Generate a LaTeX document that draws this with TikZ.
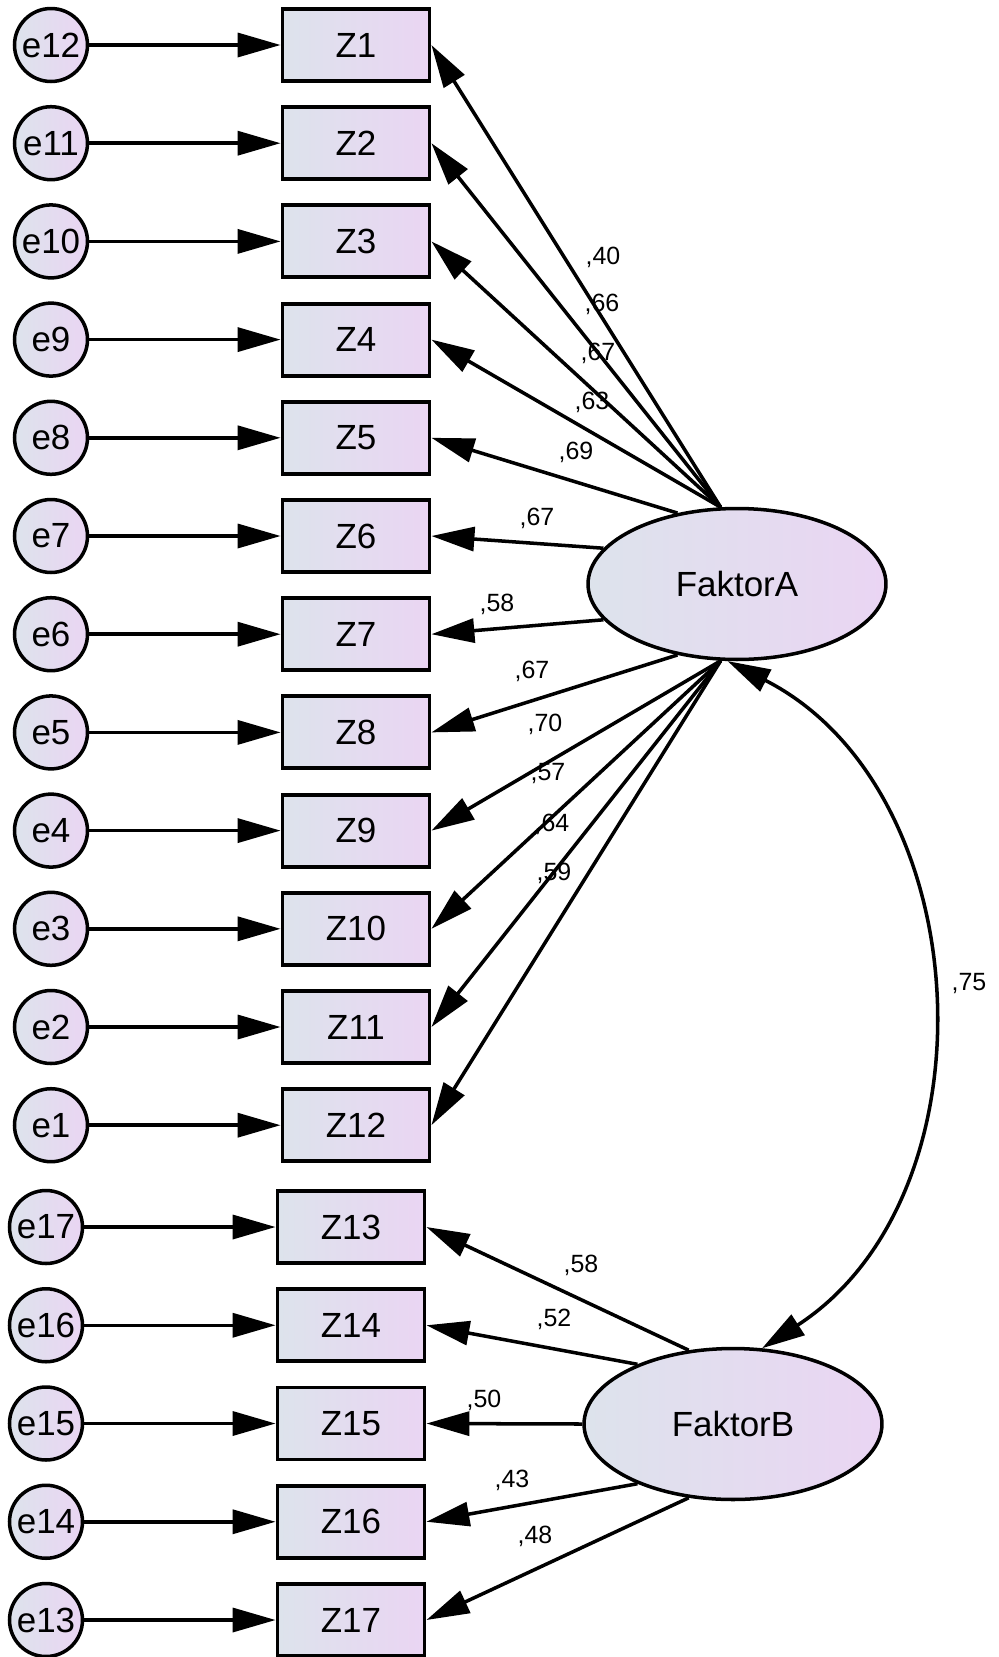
\documentclass[tikz,border=0pt]{standalone}
\usepackage{fontspec}
\setmainfont{Liberation Sans}
\usetikzlibrary{calc,arrows.meta,shapes.geometric}

\definecolor{shadeleft}{RGB}{221,227,236}
\definecolor{shaderight}{RGB}{234,213,243}

\tikzset{
  err/.style={circle, draw, line width=2pt, minimum size=1.46cm, inner sep=0pt,
    left color=shadeleft, right color=shaderight, font=\fontsize{19.9}{24}\selectfont},
  ind/.style={rectangle, draw, line width=2.2pt, minimum width=2.94cm, minimum height=1.44cm,
    left color=shadeleft, right color=shaderight, font=\fontsize{19.9}{24}\selectfont},
  lat/.style={ellipse, draw, line width=2pt, minimum width=5.96cm, minimum height=3.02cm,
    left color=shadeleft, right color=shaderight, font=\fontsize{19.9}{24}\selectfont},
  arr/.style={line width=2pt, -{Triangle[length=0.86cm,width=0.48cm]}},
  cov/.style={line width=2pt, {Triangle[length=0.86cm,width=0.48cm]}-{Triangle[length=0.86cm,width=0.48cm]}},
  lbl/.style={inner sep=0pt, font=\fontsize{14.2}{17}\selectfont},
}

\begin{document}
\begin{tikzpicture}[x=0.02cm,y=0.02cm]
    \useasboundingbox (0,0) rectangle (998,-1657);

    % first factor: error terms and indicators
    \node[err] (e12) at ($0*(0,-98.2)+(51,-45)$) {e12};
    \node[err] (e11) at ($1*(0,-98.2)+(51,-45)$) {e11};
    \node[err] (e10) at ($2*(0,-98.2)+(51,-45)$) {e10};
    \node[err] (e9) at ($3*(0,-98.2)+(51,-45)$) {e9};
    \node[err] (e8) at ($4*(0,-98.2)+(51,-45)$) {e8};
    \node[err] (e7) at ($5*(0,-98.2)+(51,-45)$) {e7};
    \node[err] (e6) at ($6*(0,-98.2)+(51,-45)$) {e6};
    \node[err] (e5) at ($7*(0,-98.2)+(51,-45)$) {e5};
    \node[err] (e4) at ($8*(0,-98.2)+(51,-45)$) {e4};
    \node[err] (e3) at ($9*(0,-98.2)+(51,-45)$) {e3};
    \node[err] (e2) at ($10*(0,-98.2)+(51,-45)$) {e2};
    \node[err] (e1) at ($11*(0,-98.2)+(51,-45)$) {e1};

    \node[ind] (Z1) at ($0*(0,-98.2)+(356,-45)$) {Z1};
    \node[ind] (Z2) at ($1*(0,-98.2)+(356,-45)$) {Z2};
    \node[ind] (Z3) at ($2*(0,-98.2)+(356,-45)$) {Z3};
    \node[ind] (Z4) at ($3*(0,-98.2)+(356,-45)$) {Z4};
    \node[ind] (Z5) at ($4*(0,-98.2)+(356,-45)$) {Z5};
    \node[ind] (Z6) at ($5*(0,-98.2)+(356,-45)$) {Z6};
    \node[ind] (Z7) at ($6*(0,-98.2)+(356,-45)$) {Z7};
    \node[ind] (Z8) at ($7*(0,-98.2)+(356,-45)$) {Z8};
    \node[ind] (Z9) at ($8*(0,-98.2)+(356,-45)$) {Z9};
    \node[ind] (Z10) at ($9*(0,-98.2)+(356,-45)$) {Z10};
    \node[ind] (Z11) at ($10*(0,-98.2)+(356,-45)$) {Z11};
    \node[ind] (Z12) at ($11*(0,-98.2)+(356,-45)$) {Z12};

    % second factor
    \node[err] (e17) at ($0*(0,-98.25)+(46,-1227)$) {e17};
    \node[err] (e16) at ($1*(0,-98.25)+(46,-1227)$) {e16};
    \node[err] (e15) at ($2*(0,-98.25)+(46,-1227)$) {e15};
    \node[err] (e14) at ($3*(0,-98.25)+(46,-1227)$) {e14};
    \node[err] (e13) at ($4*(0,-98.25)+(46,-1227)$) {e13};

    \node[ind] (Z13) at ($0*(0,-98.25)+(351,-1227)$) {Z13};
    \node[ind] (Z14) at ($1*(0,-98.25)+(351,-1227)$) {Z14};
    \node[ind] (Z15) at ($2*(0,-98.25)+(351,-1227)$) {Z15};
    \node[ind] (Z16) at ($3*(0,-98.25)+(351,-1227)$) {Z16};
    \node[ind] (Z17) at ($4*(0,-98.25)+(351,-1227)$) {Z17};

    \node[lat] (FaktorA) at (737,-584) {FaktorA};
    \node[lat] (FaktorB) at (733,-1424) {FaktorB};

    % error paths
    \draw[arr] (e12) -- (Z1);
    \draw[arr] (e11) -- (Z2);
    \draw[arr] (e10) -- (Z3);
    \draw[arr] (e9) -- (Z4);
    \draw[arr] (e8) -- (Z5);
    \draw[arr] (e7) -- (Z6);
    \draw[arr] (e6) -- (Z7);
    \draw[arr] (e5) -- (Z8);
    \draw[arr] (e4) -- (Z9);
    \draw[arr] (e3) -- (Z10);
    \draw[arr] (e2) -- (Z11);
    \draw[arr] (e1) -- (Z12);
    \draw[arr] (e17) -- (Z13);
    \draw[arr] (e16) -- (Z14);
    \draw[arr] (e15) -- (Z15);
    \draw[arr] (e14) -- (Z16);
    \draw[arr] (e13) -- (Z17);

    % loadings
    \draw[arr] (FaktorA.102) -- (Z1.east);
    \draw[arr] (FaktorA.102) -- (Z2.east);
    \draw[arr] (FaktorA.102) -- (Z3.east);
    \draw[arr] (FaktorA.102) -- (Z4.east);
    \draw[arr] (FaktorA.130) -- (Z5.east);
    \draw[arr] (FaktorA.165) -- (Z6.east);
    \draw[arr] (FaktorA.195) -- (Z7.east);
    \draw[arr] (FaktorA.230) -- (Z8.east);
    \draw[arr] (FaktorA.258) -- (Z9.east);
    \draw[arr] (FaktorA.258) -- (Z10.east);
    \draw[arr] (FaktorA.258) -- (Z11.east);
    \draw[arr] (FaktorA.258) -- (Z12.east);
    \draw[arr] (FaktorB.121) -- (Z13.east);
    \draw[arr] (FaktorB.148) -- (Z14.east);
    \draw[arr] (FaktorB.180) -- (Z15.east);
    \draw[arr] (FaktorB.212) -- (Z16.east);
    \draw[arr] (FaktorB.239) -- (Z17.east);

    % correlation
    \draw[cov] (FaktorA.263) to[out=-27,in=33,looseness=1.05] (FaktorB.69);

    % estimates
    \node[lbl] (w1) at (603,-257) {,40};
    \node[lbl] (w2) at (602,-304) {,66};
    \node[lbl] (w3) at (598,-353) {,67};
    \node[lbl] (w4) at (592,-402) {,63};
    \node[lbl] (w5) at (576,-452) {,69};
    \node[lbl] (w6) at (537,-518) {,67};
    \node[lbl] (w7) at (497,-604) {,58};
    \node[lbl] (w8) at (532,-671) {,67};
    \node[lbl] (w9) at (545,-724) {,70};
    \node[lbl] (w10) at (548,-774) {,57};
    \node[lbl] (w11) at (552,-824) {,64};
    \node[lbl] (w12) at (554,-873) {,59};
    \node[lbl] (w13) at (581,-1265) {,58};
    \node[lbl] (w14) at (554,-1319) {,52};
    \node[lbl] (w15) at (484,-1400) {,50};
    \node[lbl] (w16) at (512,-1480) {,43};
    \node[lbl] (w17) at (535,-1536) {,48};
    \node[lbl] (r1) at (969,-983) {,75};
\end{tikzpicture}
\end{document}
